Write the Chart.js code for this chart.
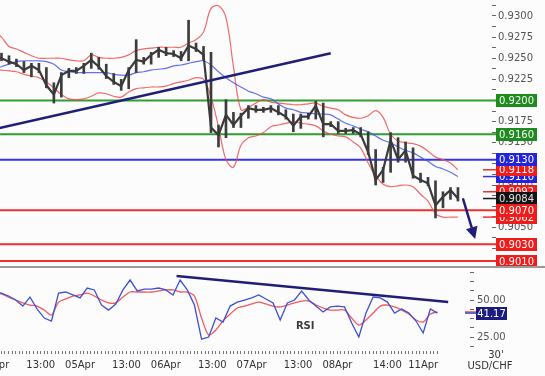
<!DOCTYPE html>
<html><head><meta charset="utf-8">
<script src="https://cdn.jsdelivr.net/npm/chart.js@4.4.1/dist/chart.umd.min.js"></script>
<style>
html,body{margin:0;padding:0;background:#fcfcfc;overflow:hidden;width:545px;height:376px;position:relative;font-family:"DejaVu Sans",sans-serif;}
#price{position:absolute;left:-30px;top:0;}
#rsiCanvas{position:absolute;left:-30px;top:266px;}
#sep{position:absolute;left:0;top:266px;width:545px;height:2px;background:#9a9a9a;}
.lbl{position:absolute;font-size:10px;color:#333;text-align:center;width:60px;line-height:12px;}
</style></head><body>
<canvas id="price" width="575" height="266"></canvas>
<canvas id="rsiCanvas" width="575" height="110"></canvas>
<div id="sep"></div>
<div class="lbl" style="left:466px;top:349px;">30'</div>
<div class="lbl" style="left:460px;top:360px;">USD/CHF</div>
<script>
// ---------- data (hours of trading time since 04Apr 00:00, weekend removed) ----------
const hours = [0,2,4,6,8,10,12,14,16,18,20,22,24,26,28,30,32,34,36,38,40,42,44,46,48,50,52,54,56,58,60,62,64,66,68,70,72,74,76,78,80,82,84,86,88,90,92,94,96,98,100,102,104,106,108,110,112,114,116,118,120,122,124];

const closes = [0.9253,0.9250,0.9246,0.9243,0.9236,0.9241,0.9236,0.9218,0.9207,0.9230,
 0.9235,0.9235,0.9241,0.9248,0.9240,0.9229,0.9222,0.9217,0.9236,0.9248,
 0.9246,0.9254,0.9260,0.9256,0.9255,0.9250,0.9265,0.9261,0.9254,0.9168,
 0.9159,0.9183,0.9171,0.9182,0.9191,0.9189,0.9189,0.9191,0.9186,0.9181,
 0.9170,0.9181,0.9181,0.9194,0.9172,0.9172,0.9164,0.9164,0.9165,0.9160,
 0.9139,0.9106,0.9118,0.9153,0.9130,0.9141,0.9111,0.9106,0.9102,0.9076,
 0.9086,0.9094,0.9084];

const highs = [0.9257,0.9256,0.9253,0.9249,0.9246,0.9244,0.9244,0.9239,0.9221,0.9233,
 0.9238,0.9239,0.9244,0.9256,0.9251,0.9243,0.9232,0.9225,0.9239,0.9272,
 0.9251,0.9257,0.9263,0.9263,0.9259,0.9258,0.9295,0.9268,0.9264,0.9257,
 0.9171,0.9201,0.9186,0.9185,0.9194,0.9194,0.9192,0.9194,0.9194,0.9189,
 0.9184,0.9184,0.9185,0.9199,0.9197,0.9175,0.9175,0.9167,0.9168,0.9168,
 0.9163,0.9142,0.9121,0.9162,0.9156,0.9151,0.9144,0.9114,0.9109,0.9105,
 0.9092,0.9097,0.9097];

const lows = [0.9249,0.9247,0.9243,0.9240,0.9233,0.9228,0.9233,0.9215,0.9197,0.9204,
 0.9227,0.9232,0.9232,0.9238,0.9237,0.9226,0.9219,0.9212,0.9214,0.9233,
 0.9243,0.9243,0.9251,0.9253,0.9252,0.9247,0.9247,0.9258,0.9248,0.9162,
 0.9145,0.9156,0.9168,0.9168,0.9179,0.9186,0.9186,0.9186,0.9183,0.9178,
 0.9163,0.9167,0.9178,0.9178,0.9157,0.9169,0.9161,0.9161,0.9161,0.9157,
 0.9136,0.9100,0.9103,0.9115,0.9127,0.9127,0.9108,0.9103,0.9099,0.9061,
 0.9073,0.9083,0.9081];

const bbUpper = [0.9283,0.9275,0.9264,0.9261,0.9257,0.9253,0.9250,0.9250,0.9250,0.9250,
 0.9248,0.9247,0.9247,0.9254,0.9251,0.9250,0.9250,0.9251,0.9254,0.9259,
 0.9261,0.9262,0.9263,0.9263,0.9263,0.9263,0.9268,0.9272,0.9281,0.9309,
 0.9312,0.9298,0.9240,0.9189,0.9192,0.9197,0.9201,0.9198,0.9197,0.9196,
 0.9195,0.9195,0.9196,0.9197,0.9193,0.9191,0.9189,0.9183,0.9180,0.9179,
 0.9182,0.9188,0.9180,0.9160,0.9152,0.9150,0.9149,0.9146,0.9140,0.9133,
 0.9130,0.9126,0.9118];

const bbLower = [0.9237,0.9236,0.9235,0.9234,0.9231,0.9229,0.9227,0.9222,0.9215,0.9207,
 0.9202,0.9201,0.9202,0.9205,0.9209,0.9208,0.9205,0.9204,0.9210,0.9214,
 0.9215,0.9216,0.9216,0.9217,0.9220,0.9222,0.9224,0.9227,0.9225,0.9204,
 0.9169,0.9130,0.9121,0.9147,0.9156,0.9158,0.9162,0.9169,0.9171,0.9173,
 0.9175,0.9173,0.9172,0.9170,0.9164,0.9160,0.9158,0.9157,0.9151,0.9144,
 0.9126,0.9111,0.9101,0.9098,0.9099,0.9100,0.9098,0.9089,0.9081,0.9066,
 0.9062,0.9062,0.9062];

const maLine = [0.9236,0.9240,0.9243,0.9246,0.9247,0.9247,0.9247,0.9246,0.9243,0.9236,
 0.9234,0.9233,0.9233,0.9233,0.9233,0.9233,0.9231,0.9230,0.9230,0.9233,
 0.9234,0.9236,0.9237,0.9238,0.9241,0.9242,0.9244,0.9246,0.9247,0.9242,
 0.9234,0.9227,0.9221,0.9216,0.9211,0.9208,0.9204,0.9202,0.9196,0.9191,
 0.9189,0.9186,0.9185,0.9184,0.9184,0.9183,0.9178,0.9173,0.9170,0.9166,
 0.9163,0.9158,0.9153,0.9150,0.9145,0.9141,0.9138,0.9133,0.9128,0.9122,
 0.9119,0.9115,0.9110];

const rsi = [55.4,54.7,52.7,50.0,45.9,52.0,43.9,37.8,35.8,54.7,
 55.4,53.4,51.4,58.1,56.8,46.6,43.2,47.3,56.8,63.5,
 56.1,57.4,57.4,58.1,56.8,53.4,63.5,56.8,46.6,23.6,
 25.0,37.8,35.1,45.9,48.6,50.0,51.4,53.4,50.7,48.0,
 36.5,48.0,50.0,56.1,50.0,45.9,41.9,45.3,45.9,45.3,
 34.5,25.0,41.2,52.0,51.4,48.6,41.2,43.9,41.2,35.8,
 27.7,43.9,41.17];

const rsiSignal = [55.4,54.1,52.0,50.0,48.0,46.6,45.9,43.2,39.9,48.6,
 50.7,52.7,53.4,54.7,52.7,50.0,48.0,48.0,52.0,55.4,
 55.4,55.4,55.4,56.1,56.8,56.8,55.4,55.4,52.7,37.8,
 26.4,29.7,35.8,40.5,44.6,45.9,47.3,48.6,47.3,45.9,
 45.3,46.6,48.0,49.3,49.3,46.6,44.6,43.2,43.2,43.2,
 37.8,33.1,36.5,41.2,45.9,46.6,45.3,43.2,40.5,36.5,
 35.1,40.5,41.9];

// support / resistance levels
const levelValues = [0.9200, 0.9160, 0.9130, 0.9070, 0.9030, 0.9010];
const levelKinds  = ['green','green','blue','red','red','red'];
const hiddenMark = 0.9092;

// trend lines and arrow (hour, value)
const priceTrendHours = [0, 90];
const priceTrendValues = [0.9166, 0.9256];
const rsiTrendHours = [51, 127];
const rsiTrendValues = [66.2, 48.6];
const arrowHours = [125.4, 128.6];
const arrowValues = [0.9083, 0.9036];
const rsiTextAt = [87, 32.4];

// axis ticks
const priceTicks = [0.9300,0.9275,0.9250,0.9225,0.9200,0.9175,0.9150,0.9125,0.9100,0.9075,0.9050,0.9025];
const rsiTicks = [50, 25];
const timeTickHours = [0,13,24,37,48,61,72,85,96,110,120];
const timeTickLabels = ['04Apr','13:00','05Apr','13:00','06Apr','13:00','07Apr','13:00','08Apr','14:00','11Apr'];

// ---------- styles ----------
Chart.defaults.font.family = '"DejaVu Sans", sans-serif';
Chart.defaults.font.size = 10;
const NAVY = '#1f1f78';
const LINE = {green:'#2f9d2f', blue:'#3434e6', red:'#ef3030', black:'#1a1a1a'};
const FILL = {green:'#1e8b1e', blue:'#2323dd', red:'#f01c1c', black:'#121212'};
const X_MAX = 133.1;

function drawBox(ctx, x0, py, w, text, fill, fg) {
  ctx.fillStyle = fill;
  ctx.fillRect(x0, Math.round(py - 6.5), w, 13);
  ctx.fillStyle = fg;
  ctx.font = '10px "DejaVu Sans", sans-serif';
  ctx.textAlign = 'center'; ctx.textBaseline = 'middle';
  ctx.fillText(text, x0 + w / 2, Math.round(py - 6.5) + 7);
}
function zeroPad(s) { s.paddingTop = 0; s.paddingBottom = 0; s.paddingLeft = 0; s.paddingRight = 0; }

const pricePlugin = {
  id: 'priceDecor',
  beforeDatasetsDraw(chart) {
    const {ctx, chartArea: a, scales: {y}} = chart;
    ctx.save();
    ctx.lineWidth = 2;
    levelValues.forEach((v, i) => {
      const py = y.getPixelForValue(v);
      ctx.strokeStyle = LINE[levelKinds[i]];
      ctx.beginPath(); ctx.moveTo(a.left, py); ctx.lineTo(a.right + 4, py); ctx.stroke();
    });
    ctx.restore();
  },
  afterDatasetsDraw(chart) {
    const {ctx, scales: {x, y}} = chart;
    const x1 = x.getPixelForValue(arrowHours[0]), y1 = y.getPixelForValue(arrowValues[0]);
    const x2 = x.getPixelForValue(arrowHours[1]), y2 = y.getPixelForValue(arrowValues[1]);
    const ang = Math.atan2(y2 - y1, x2 - x1), L = 12, W = 6;
    const bx = x2 - L * Math.cos(ang), by = y2 - L * Math.sin(ang);
    ctx.save();
    ctx.strokeStyle = NAVY; ctx.lineWidth = 2.5; ctx.lineCap = 'round';
    ctx.beginPath(); ctx.moveTo(x1, y1); ctx.lineTo(bx, by); ctx.stroke();
    ctx.fillStyle = NAVY;
    ctx.beginPath(); ctx.moveTo(x2, y2);
    ctx.lineTo(bx + W * Math.sin(ang), by - W * Math.cos(ang));
    ctx.lineTo(bx - W * Math.sin(ang), by + W * Math.cos(ang));
    ctx.closePath(); ctx.fill();
    ctx.restore();
  },
  afterDraw(chart) {
    const {ctx, chartArea: a, scales: {y}} = chart;
    const marks = [[maLine.at(-1),'blue'],[bbUpper.at(-1),'red'],[hiddenMark,'red'],[closes.at(-1),'black'],[bbLower.at(-1),'red']];
    ctx.save();
    ctx.lineWidth = 1.5;
    marks.forEach(([v, k]) => {
      const py = y.getPixelForValue(v);
      ctx.strokeStyle = LINE[k];
      ctx.beginPath(); ctx.moveTo(a.right - 9, py); ctx.lineTo(a.right + 4, py); ctx.stroke();
    });
    const boxes = [
      [levelValues[0], 'green'], [levelValues[1], 'green'],
      [maLine.at(-1), 'blue'], [bbUpper.at(-1), 'red'], [levelValues[2], 'blue'],
      [hiddenMark, 'red'], [closes.at(-1), 'black'], [bbLower.at(-1), 'red'],
      [levelValues[3], 'red'], [levelValues[4], 'red'], [levelValues[5], 'red']
    ];
    boxes.forEach(([v, k]) => drawBox(ctx, a.right + 4, y.getPixelForValue(v), 41, v.toFixed(4), FILL[k], k === 'black' ? '#e4e4e4' : '#ffffff'));
    ctx.restore();
  }
};

const priceMinor = priceTicks.map(v => v + 0.00125);
new Chart(document.getElementById('price'), {
  type: 'line',
  data: {
    datasets: [
      { type: 'line', data: priceTrendHours.map((h, i) => ({x: h, y: priceTrendValues[i]})),
        borderColor: NAVY, borderWidth: 2.5, pointRadius: 0, order: 0 },
      { type: 'line', data: hours.map((h, i) => ({x: h, y: closes[i]})),
        borderColor: '#3a3a3a', borderWidth: 2.2, pointRadius: 0, tension: 0, order: 1 },
      { type: 'bar', data: hours.map((h, i) => ({x: h, y: [lows[i], highs[i]]})),
        backgroundColor: '#3c3c3c', borderWidth: 0,
        barThickness: 2, order: 2 },
      { type: 'line', data: hours.map((h, i) => ({x: h, y: maLine[i]})),
        borderColor: 'rgba(70,90,230,0.85)', borderWidth: 1.2, pointRadius: 0, tension: 0.3, order: 3 },
      { type: 'line', data: hours.map((h, i) => ({x: h, y: bbUpper[i]})),
        borderColor: 'rgba(238,80,80,0.85)', borderWidth: 1.2, pointRadius: 0, tension: 0.35, order: 4 },
      { type: 'line', data: hours.map((h, i) => ({x: h, y: bbLower[i]})),
        borderColor: 'rgba(238,80,80,0.85)', borderWidth: 1.2, pointRadius: 0, tension: 0.35, order: 4 }
    ]
  },
  options: {
    responsive: false, animation: false, events: [],
    layout: { padding: { left: 24, right: 0, top: 0, bottom: 0 } },
    plugins: { legend: { display: false }, tooltip: { enabled: false } },
    scales: {
      x: { type: 'linear', display: false, min: 0, max: X_MAX, offset: false },
      y: {
        type: 'linear', position: 'right', min: 0.900415, max: 0.931893,
        afterBuildTicks: s => { s.ticks = priceTicks.concat(priceMinor).filter(v => v > s.min && v < s.max).sort((a, b) => b - a).map(v => ({value: v})); },
        afterFit: s => { s.width = 53; zeroPad(s); },
        border: { display: false },
        grid: { drawOnChartArea: false, drawTicks: true, tickLength: 4, color: '#666' },
        ticks: { autoSkip: false, padding: 2, color: '#555',
          callback: v => (Math.round(v / 0.00125) % 2 === 0 ? v.toFixed(4) : '') }
      }
    }
  },
  plugins: [pricePlugin]
});

const rsiPlugin = {
  id: 'rsiDecor',
  afterDatasetsDraw(chart) {
    const {ctx, scales: {x, y}} = chart;
    ctx.save();
    ctx.font = 'bold 10px "DejaVu Sans", sans-serif';
    ctx.fillStyle = '#3a3a3a'; ctx.textAlign = 'center'; ctx.textBaseline = 'middle';
    ctx.fillText('RSI', x.getPixelForValue(rsiTextAt[0]), y.getPixelForValue(rsiTextAt[1]));
    ctx.restore();
  },
  afterDraw(chart) {
    const {ctx, chartArea: a, scales: {y}} = chart;
    ctx.save();
    ctx.lineWidth = 1.5;
    const ps = y.getPixelForValue(rsiSignal.at(-1)), pr = y.getPixelForValue(rsi.at(-1));
    ctx.strokeStyle = '#ef4a4a';
    ctx.beginPath(); ctx.moveTo(a.right - 5, ps); ctx.lineTo(a.right + 6, ps); ctx.stroke();
    ctx.strokeStyle = '#3a4ad8';
    ctx.beginPath(); ctx.moveTo(a.right - 5, pr); ctx.lineTo(a.right + 6, pr); ctx.stroke();
    drawBox(ctx, a.right + 6, pr, 31, rsi.at(-1).toFixed(2), '#1c1c80', '#ffffff');
    ctx.restore();
  }
};

const rsiMinor = [18.75, 31.25, 37.5, 43.75, 56.25, 62.5, 68.75];
new Chart(document.getElementById('rsiCanvas'), {
  type: 'line',
  data: {
    datasets: [
      { data: rsiTrendHours.map((h, i) => ({x: h, y: rsiTrendValues[i]})),
        borderColor: NAVY, borderWidth: 2.5, pointRadius: 0, order: 0 },
      { data: hours.map((h, i) => ({x: h, y: rsi[i]})),
        borderColor: '#4050d2', borderWidth: 1.3, pointRadius: 0, tension: 0, order: 1 },
      { data: hours.map((h, i) => ({x: h, y: rsiSignal[i]})),
        borderColor: '#f05a5a', borderWidth: 1.3, pointRadius: 0, tension: 0.3, order: 2 }
    ]
  },
  options: {
    responsive: false, animation: false, events: [],
    layout: { padding: { left: 24.25, right: 0, top: 1, bottom: 0 } },
    plugins: { legend: { display: false }, tooltip: { enabled: false } },
    scales: {
      x: {
        type: 'linear', min: 0, max: X_MAX, offset: false,
        afterBuildTicks: s => { const t = []; for (let h = 0; h <= hours.at(-1); h++) t.push({value: h}); s.ticks = t; },
        afterFit: s => { s.height = 25; zeroPad(s); },
        border: { display: false },
        grid: { drawOnChartArea: false, drawTicks: true, tickLength: 3, color: '#777' },
        ticks: { autoSkip: false, maxRotation: 0, minRotation: 0, padding: 5, color: '#333',
          callback: v => { const i = timeTickHours.indexOf(v); return i >= 0 ? timeTickLabels[i] : ''; } }
      },
      y: {
        type: 'linear', position: 'right', min: 15.54, max: 72.3,
        afterBuildTicks: s => { s.ticks = rsiTicks.concat(rsiMinor).sort((a, b) => b - a).map(v => ({value: v})); },
        afterFit: s => { s.width = 75; zeroPad(s); },
        border: { display: false },
        grid: { drawOnChartArea: false, drawTicks: true, tickLength: 4, color: '#666' },
        ticks: { autoSkip: false, padding: 3, color: '#555',
          callback: v => (rsiTicks.includes(v) ? v.toFixed(2) : '') }
      }
    }
  },
  plugins: [rsiPlugin]
});
</script>
</body></html>
